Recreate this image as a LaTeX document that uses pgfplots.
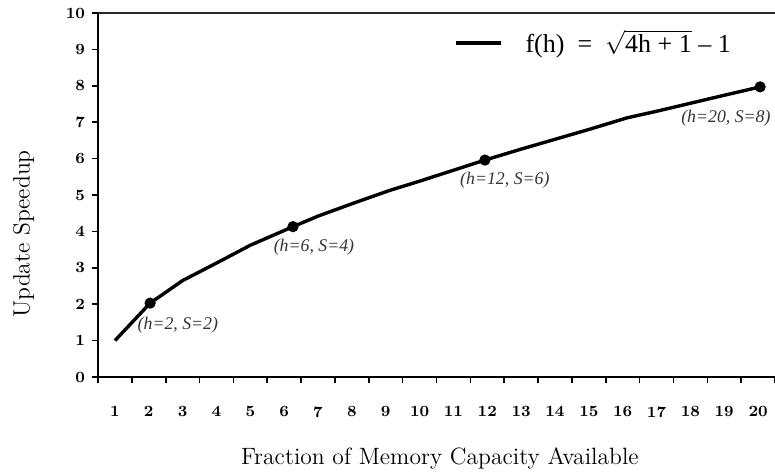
\documentclass[border=0pt]{standalone}
\usepackage{fontspec}
\usepackage{pgfplots}
\pgfplotsset{compat=1.18}
\newfontfamily\timesfont{Liberation Serif}
\begin{document}
\begin{tikzpicture}
\useasboundingbox (-49pt,-47.5pt) rectangle (338.5pt,188.5pt);
\begin{axis}[
  scale only axis,
  width=338.5pt, height=182pt,
  xmin=0.5, xmax=20.5, ymin=0, ymax=10,
  axis x line=bottom, axis y line=left,
  axis line style={-, line width=0.9pt},
  tick align=outside,
  major tick length=3pt,
  tick style={black, line width=0.8pt},
  xtick={0.5,1.5,...,20.5},
  x tick label as interval,
  xticklabels={1,2,3,4,5,6,7,8,9,10,11,12,13,14,15,16,17,18,19,20},
  xticklabel style={font=\fontsize{7.8}{9}\selectfont\bfseries, yshift=-8.3pt},
  ytick={0,1,...,10},
  yticklabels={0,1,2,3,4,5,6,7,8,9,10},
  yticklabel style={font=\fontsize{7.8}{9}\selectfont\bfseries},
  xlabel={Fraction of Memory Capacity Available},
  ylabel={Update Speedup},
  label style={font=\fontsize{11.8}{13}\selectfont},
  xlabel style={at={(axis description cs:0.505,-0.2225)}, anchor=center},
  ylabel style={at={(axis description cs:-0.11,0.393)}, anchor=center},
  legend style={at={(rel axis cs:0.5255,0.918)}, anchor=west, draw=none, fill=none,
    font=\timesfont\fontsize{13}{15}\selectfont, inner sep=0pt,
    /tikz/every odd column/.append style={column sep=9.5pt}},
  legend image code/.code={\draw[line width=1.7pt] (0pt,0pt) -- (22.5pt,0pt);},
  clip=false,
]
\addplot[black, line width=1.7pt] coordinates {
  (1,1.0) (2.04,2.03) (3,2.65) (4,3.13) (5,3.62) (6.26,4.13) (7,4.42)
  (8,4.76) (9.13,5.13) (10,5.38) (11,5.68) (11.93,5.96) (13,6.26)
  (14,6.53) (15,6.80) (16.13,7.12) (17,7.30) (18,7.52) (19,7.74) (20.06,7.97)
};
\addlegendentry{f(h)\ \ =\ \ $\sqrt{\mbox{\timesfont 4h + 1}}$\ –\ 1}
\addplot[black, only marks, mark=*, mark size=2.6pt, forget plot] coordinates {
  (2.04,2.03) (6.26,4.13) (11.93,5.96) (20.06,7.97)
};
\begin{scope}[every node/.style={font=\timesfont\itshape\fontsize{8.9}{10}\selectfont, text=black!80}]
\node at (axis cs:2.86,1.43) {(h=2, S=2)};
\node at (axis cs:6.88,3.57) {(h=6, S=4)};
\node at (axis cs:12.52,5.41) {(h=12, S=6)};
\node at (axis cs:19.05,7.12) {(h=20, S=8)};
\end{scope}
\draw[black!85, line width=0.8pt] (rel axis cs:0,1) -- (rel axis cs:1,1);
\end{axis}
\end{tikzpicture}
\end{document}
